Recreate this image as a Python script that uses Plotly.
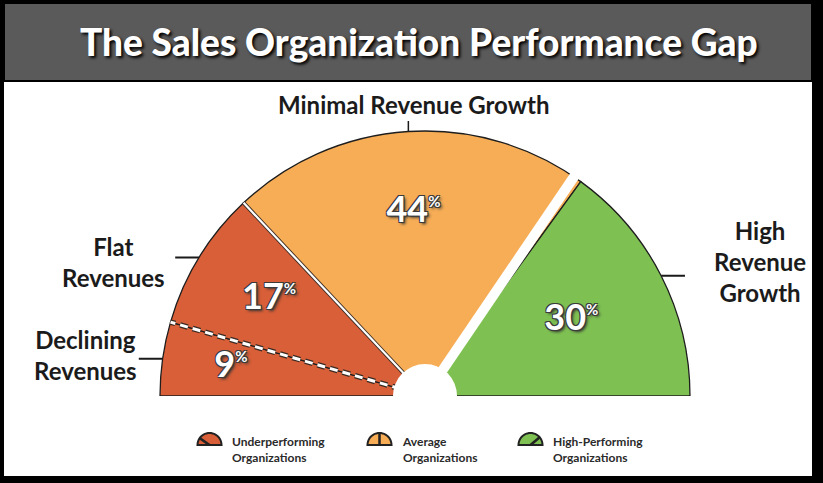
import numpy as np
import plotly.graph_objects as go

# gauge data (share of sales organizations, %)
segments = ['Declining Revenues', 'Flat Revenues', 'Minimal Revenue Growth', 'High Revenue Growth']
shares = [9, 17, 44, 30]
seg_colors = ['#D85F38', '#D85F38', '#F6AD56', '#7EC152']

groups = ['Underperforming<br>Organizations', 'Average<br>Organizations', 'High-Performing<br>Organizations']
group_colors = ['#D85F38', '#F6AD56', '#7EC152']

W, H = 823, 483
R_MAX = 1.12  # radial room outside the gauge for the little pointer ticks


def px(x):
    return x / W


def py(y):
    return 1 - y / H


def to_xy(r, t):
    # theta 0 sits at the left end of the gauge, 180 at the right end
    a = np.radians(180 - t)
    return r * np.cos(a), r * np.sin(a)


def to_rt(x, y):
    return float(np.hypot(x, y)), float(180 - np.degrees(np.arctan2(y, x)))


vals = np.array(shares, dtype=float)
starts = np.cumsum(vals) - vals
deg = 180 / vals.sum()
theta_mid = (starts + vals / 2) * deg
theta_w = vals * deg

fig = go.Figure()

fig.add_trace(go.Barpolar(
    r=[1] * len(shares), theta=theta_mid, width=theta_w,
    marker=dict(color=seg_colors, line=dict(color='#1e1e1e', width=1.3)),
    hoverinfo='skip', showlegend=False))

# boundary between declining / flat : dashed
b1 = starts[1] * deg
for col, w in [('#3a2a22', 5.5), ('white', 3)]:
    fig.add_trace(go.Scatterpolar(r=[0, 1], theta=[b1, b1], mode='lines',
                                  line=dict(color=col, width=w, dash='8px,5px'),
                                  hoverinfo='skip', showlegend=False))
# boundary underperforming / average : solid white
b2 = starts[2] * deg
for col, w in [('#3a2a22', 4), ('white', 2.2)]:
    fig.add_trace(go.Scatterpolar(r=[0, 1], theta=[b2, b2], mode='lines',
                                  line=dict(color=col, width=w),
                                  hoverinfo='skip', showlegend=False))
# gap before the high performers
b3 = starts[3] * deg
fig.add_trace(go.Scatterpolar(r=[0, 1.01], theta=[b3 - 1.8, b3 - 1.8], mode='lines',
                              line=dict(color='white', width=10),
                              hoverinfo='skip', showlegend=False))

# small tick marks pointing at the outer labels
for t in theta_mid[[0, 1, 3]]:
    x0, y0 = to_xy(1.0, t)
    x1 = x0 + np.sign(x0) * 0.09
    r1, t1 = to_rt(x1, y0)
    fig.add_trace(go.Scatterpolar(r=[1.0, r1], theta=[t, t1], mode='lines',
                                  line=dict(color='#1a1a1a', width=2),
                                  hoverinfo='skip', showlegend=False))
t = theta_mid[2]
x0, y0 = to_xy(1.0, t)
r1, t1 = to_rt(x0, y0 + 0.04)
fig.add_trace(go.Scatterpolar(r=[1.0, r1], theta=[t, t1], mode='lines',
                              line=dict(color='#1a1a1a', width=1.5),
                              hoverinfo='skip', showlegend=False))

# percentage labels
label_r = [0.74, 0.69, 0.69, 0.62]
outline = '1px 1px 0 #3a3a3a, -1px -1px 0 #3a3a3a, 1px -1px 0 #3a3a3a, -1px 1px 0 #3a3a3a, 2px 2px 3px #333'
fig.add_trace(go.Scatterpolar(
    r=label_r, theta=theta_mid, mode='text',
    text=[f'{v}<sup><span style="font-size:15px">%</span></sup>' for v in shares],
    textfont=dict(family='Lato', size=36, color='white', weight='bold', shadow=outline),
    hoverinfo='skip', showlegend=False, cliponaxis=False))

# gauge radius 265 px, centre (425, 396)
rad = 265 * R_MAX
fig.update_layout(
    width=W, height=H,
    margin=dict(l=0, r=0, t=0, b=0),
    paper_bgcolor='white',
    polar=dict(
        domain=dict(x=[px(425 - rad), px(425 + rad)], y=[py(396), py(396 - rad)]),
        sector=[0, 180], hole=0, bgcolor='rgba(0,0,0,0)',
        radialaxis=dict(visible=False, range=[0, R_MAX]),
        angularaxis=dict(visible=False, rotation=180, direction='clockwise'),
    ),
)

shapes = [
    dict(type='rect', xref='paper', yref='paper', x0=0, x1=1, y0=0, y1=1,
         fillcolor='black', line_width=0, layer='below'),
    dict(type='rect', xref='paper', yref='paper', x0=px(4), x1=px(812), y0=py(476), y1=py(3),
         fillcolor='white', line_width=0, layer='below'),
    dict(type='rect', xref='paper', yref='paper', x0=px(4), x1=px(812), y0=py(81), y1=py(3),
         fillcolor='#5a5a5a', line=dict(color='black', width=2), layer='below'),
    # centre hub
    dict(type='circle', xref='paper', yref='paper', x0=px(393), x1=px(457), y0=py(428), y1=py(364),
         fillcolor='white', line_width=0, layer='above'),
]

# small gauge icons for the legend
icon_x = [197, 367, 518]
needle = [35, 90, 140]
arc = np.linspace(0, np.pi, 25)
for cx0, col, nd in zip(icon_x, group_colors, needle):
    cx, cy, rr = cx0 + 12.5, 445, 12
    pts = [(cx + rr * np.cos(a), cy - rr * np.sin(a)) for a in arc]
    path = 'M ' + ' L '.join(f'{px(a):.5f},{py(b):.5f}' for a, b in pts) + ' Z'
    shapes.append(dict(type='path', xref='paper', yref='paper', path=path,
                       fillcolor=col, line=dict(color='#222', width=2), layer='above'))
    na = np.radians(180 - nd)
    shapes.append(dict(type='line', xref='paper', yref='paper',
                       x0=px(cx), y0=py(cy), x1=px(cx + rr * np.cos(na)), y1=py(cy - rr * np.sin(na)),
                       line=dict(color='#222', width=2.5), layer='above'))
fig.update_layout(shapes=shapes)

label_font = dict(family='Lato', size=24, color='#1b1b1b', weight='bold')
annotations = [
    dict(text='The Sales Organization Performance Gap', x=px(419), y=py(42),
         font=dict(family='Lato', size=37, color='white', weight=900, shadow='2px 2px 3px #000')),
    dict(text='Minimal Revenue Growth', x=px(413), y=py(104), font=label_font),
    dict(text='Flat<br>Revenues', x=px(113), y=py(262), font=label_font),
    dict(text='Declining<br>Revenues', x=px(85), y=py(355), font=label_font),
    dict(text='High<br>Revenue<br>Growth', x=px(760), y=py(261), font=label_font),
]
for tx, g in zip([230, 400, 551], groups):
    annotations.append(dict(text=g, x=px(tx), y=py(449), xanchor='left', align='left',
                            font=dict(family='Lato', size=12, color='#2a2a2a', weight='bold')))
for a in annotations:
    a.update(xref='paper', yref='paper', showarrow=False)
    a.setdefault('xanchor', 'center')
    a.setdefault('yanchor', 'middle')
fig.update_layout(annotations=annotations)

fig.write_html("out.html", config={'displayModeBar': False},
               post_script="document.body.style.margin='0';")
